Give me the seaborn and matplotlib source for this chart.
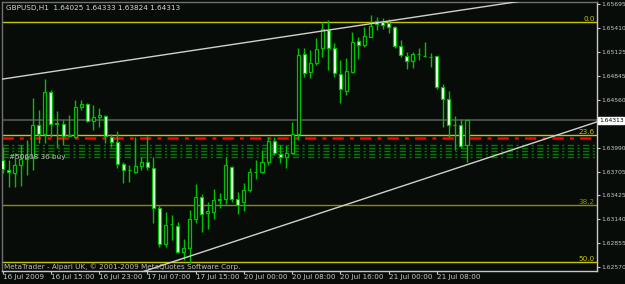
import numpy as np
import pandas as pd
import matplotlib
matplotlib.use("Agg")
import matplotlib.pyplot as plt
from matplotlib import font_manager
import seaborn as sns

# ---------------- data ----------------
opens = [1.63843, 1.63724, 1.63688, 1.63783, 1.63854, 1.63878, 1.64258, 1.64151, 1.64650, 1.64270,
         1.64270, 1.64128, 1.64116, 1.64472, 1.64508, 1.64306, 1.64353, 1.64365, 1.64116, 1.64056,
         1.63795, 1.63724, 1.63700, 1.63771, 1.63819, 1.63748, 1.63273, 1.62845, 1.63083, 1.63059,
         1.62750, 1.62797, 1.63142, 1.63403, 1.63213, 1.63225, 1.63368, 1.63379, 1.63759, 1.63379,
         1.63344, 1.63486, 1.63700, 1.63700, 1.63819, 1.64068, 1.63914, 1.63878, 1.63926, 1.64151,
         1.65101, 1.64888, 1.64994, 1.65173, 1.65386, 1.65173, 1.64864, 1.64662, 1.64888, 1.65256,
         1.65208, 1.65303, 1.65493, 1.65481, 1.65469, 1.65422, 1.65196, 1.65078, 1.65018, 1.65101,
         1.65078, 1.65066, 1.65078, 1.64709, 1.64567, 1.64258, 1.64258, 1.64025]
highs = [1.63997, 1.63843, 1.63926, 1.64021, 1.64080, 1.64579, 1.64436, 1.64804, 1.64674, 1.64424,
         1.64318, 1.64377, 1.64555, 1.64555, 1.64519, 1.64496, 1.64460, 1.64377, 1.64151, 1.64187,
         1.63819, 1.63783, 1.64116, 1.63878, 1.64128, 1.63878, 1.63308, 1.63225, 1.63189, 1.63106,
         1.62904, 1.63249, 1.63558, 1.63439, 1.63344, 1.63498, 1.63451, 1.63878, 1.63771, 1.63463,
         1.63569, 1.63748, 1.63843, 1.63961, 1.64116, 1.64116, 1.64021, 1.64021, 1.64294, 1.65173,
         1.65173, 1.65149, 1.65291, 1.65481, 1.65505, 1.65232, 1.65030, 1.65054, 1.65362, 1.65303,
         1.65422, 1.65564, 1.65541, 1.65529, 1.65517, 1.65434, 1.65268, 1.65125, 1.65125, 1.65173,
         1.65244, 1.65113, 1.65078, 1.64745, 1.64662, 1.64365, 1.64329, 1.64333]
lows = [1.63688, 1.63522, 1.63522, 1.63534, 1.63664, 1.63724, 1.64044, 1.64044, 1.64116, 1.63985,
        1.64021, 1.64116, 1.64104, 1.64436, 1.64294, 1.64199, 1.64234, 1.64044, 1.63997, 1.63748,
        1.63569, 1.63581, 1.63688, 1.63724, 1.63724, 1.63094, 1.62809, 1.62809, 1.62893, 1.62738,
        1.62655, 1.62619, 1.63094, 1.62988, 1.63023, 1.63142, 1.63273, 1.63320, 1.63344, 1.63201,
        1.63237, 1.63463, 1.63617, 1.63688, 1.63783, 1.63902, 1.63807, 1.63748, 1.63914, 1.64080,
        1.64828, 1.64816, 1.64971, 1.65066, 1.64911, 1.64828, 1.64519, 1.64614, 1.64876, 1.65042,
        1.65184, 1.65303, 1.65386, 1.65398, 1.65351, 1.65173, 1.65066, 1.64923, 1.64935, 1.65030,
        1.65066, 1.64947, 1.64686, 1.64234, 1.64116, 1.63961, 1.63985, 1.63824]
closes = [1.63736, 1.63700, 1.63783, 1.63854, 1.63878, 1.64258, 1.64151, 1.64650, 1.64270, 1.64282,
          1.64128, 1.64139, 1.64472, 1.64508, 1.64306, 1.64353, 1.64377, 1.64128, 1.64056, 1.63795,
          1.63724, 1.63720, 1.63771, 1.63819, 1.63759, 1.63273, 1.62845, 1.63071, 1.63080, 1.62750,
          1.62797, 1.63142, 1.63403, 1.63201, 1.63237, 1.63368, 1.63379, 1.63783, 1.63379, 1.63308,
          1.63486, 1.63700, 1.63704, 1.63819, 1.64068, 1.63926, 1.63878, 1.63926, 1.64151, 1.65089,
          1.64876, 1.64994, 1.65161, 1.65398, 1.65173, 1.64876, 1.64686, 1.64899, 1.65244, 1.65208,
          1.65315, 1.65434, 1.65458, 1.65446, 1.65422, 1.65196, 1.65089, 1.65018, 1.65101, 1.65097,
          1.65074, 1.65062, 1.64709, 1.64567, 1.64258, 1.64254, 1.64009, 1.64313]

time_labels = ["16 Jul 2009", "16 Jul 15:00", "16 Jul 23:00", "17 Jul 07:00", "17 Jul 15:00",
               "20 Jul 00:00", "20 Jul 08:00", "20 Jul 16:00", "21 Jul 00:00", "21 Jul 08:00"]
time_label_bars = [0, 8, 16, 24, 32, 40, 48, 56, 64, 72]

price_ticks = [1.65695, 1.65410, 1.65125, 1.64845, 1.64560, 1.64275, 1.63990, 1.63705,
               1.63425, 1.63140, 1.62855, 1.62570]

fib_levels = ["0.0", "23.6", "38.2", "50.0"]
fib_prices = [1.65481, 1.64139, 1.63308, 1.62631]
fib_colors = ["#c8c800", "#c8c800", "#8c8c00", "#c8c800"]

bid_price = 1.64313
red_line_price = 1.64104
green_line_prices = [1.64021, 1.63985, 1.63950, 1.63914, 1.63878]

trend1_bars = [0, 85]
trend1_prices = [1.64804, 1.65719]
trend2_bars = [24, 98]
trend2_prices = [1.62534, 1.64282]

title_text = "GBPUSD,H1  1.64025 1.64333 1.63824 1.64313"
footer_text = "MetaTrader - Alpari UK, \u00a9 2001-2009 MetaQuotes Software Corp."
order_text = "#50608 36 buy"

# ---------------- figure ----------------
sns.set_theme(style="dark")
plt.rcParams['font.family'] = ['DejaVu Sans']

avail = {f.name for f in font_manager.fontManager.ttflist}
if "Liberation Sans Narrow" in avail:
    AXFONT, AXFS = "Liberation Sans Narrow", 5.6
else:
    AXFONT, AXFS = "DejaVu Sans", 4.3

BG = "#080c08"
W, H = 625, 284
fig = plt.figure(figsize=(W / 100, H / 100), dpi=100)
fig.patch.set_facecolor(BG)
ax = fig.add_axes([2 / W, 1 - 271 / H, 595 / W, 269 / H])
ax.set_facecolor(BG)

df = pd.DataFrame({"open": opens, "high": highs, "low": lows, "close": closes})
df["bar"] = np.arange(len(df))

green = "#00c000"
ax.vlines(df["bar"], df["low"], df["high"], color=green, lw=1.0, zorder=3)
bull = df["close"] >= df["open"]
body_bottom = np.minimum(df["open"], df["close"])
body_h = np.maximum((df["close"] - df["open"]).abs(), 0.00003)
ax.bar(df["bar"][bull], body_h[bull], bottom=body_bottom[bull], width=0.5,
       color=BG, edgecolor=green, linewidth=0.9, zorder=4)
ax.bar(df["bar"][~bull], body_h[~bull], bottom=body_bottom[~bull], width=0.5,
       color="#ffffff", edgecolor=green, linewidth=0.9, zorder=4)

ax.axhline(bid_price, color="#505050", lw=1.3, zorder=1)
for p, c in zip(fib_prices, fib_colors):
    ax.axhline(p, color=c, lw=1.0, zorder=2)
ax.axhline(red_line_price, color="#ff0000", lw=1.8, ls=(0, (4.5, 2.5, 1.5, 2.5)), zorder=2)
for p in green_line_prices:
    ax.axhline(p, color="#007a00", lw=1.0, ls=(0, (4.5, 2.5, 1.5, 2.5)), zorder=2)

xl = (-0.12, 98.56)
for bars, prices in ((trend1_bars, trend1_prices), (trend2_bars, trend2_prices)):
    slope = (prices[1] - prices[0]) / (bars[1] - bars[0])
    xs = np.array(xl)
    ys = prices[0] + slope * (xs - bars[0])
    sns.lineplot(x=xs, y=ys, ax=ax, color="#d0d0d0", lw=1.0, zorder=5)

ax.set_xlim(*xl)
ax.set_ylim(1.62524, 1.65719)

FS = 5.2
trans = ax.get_yaxis_transform()
for lab, p, c in zip(fib_levels, fib_prices, fib_colors):
    ax.text(0.996, p, lab, transform=trans, ha="right", va="bottom", color=c,
            fontsize=FS, zorder=6)

ax.yaxis.tick_right()
ax.set_yticks(price_ticks)
ax.set_yticklabels(["" if abs(v - 1.64275) < 1e-9 else f"{v:.5f}" for v in price_ticks],
                   fontfamily=AXFONT)
ax.tick_params(axis="y", colors="#c8c8c8", labelsize=AXFS, length=2, width=0.8, pad=0.8,
               direction="out", right=True, left=False)
ax.set_xticks(time_label_bars)
ax.set_xticklabels(time_labels)
ax.tick_params(axis="x", colors="#c8c8c8", labelsize=FS, length=2, width=0.8, pad=0.5,
               direction="out", bottom=True)
for lab in ax.get_xticklabels():
    lab.set_horizontalalignment("left")
ax.set_xlabel("")
ax.set_ylabel("")
ax.grid(False)

for s in ("left", "top"):
    ax.spines[s].set_color("#707070")
    ax.spines[s].set_linewidth(1.0)
    ax.spines[s].set_visible(True)
for s in ("right", "bottom"):
    ax.spines[s].set_color("#c8c8c8")
    ax.spines[s].set_linewidth(1.0)
    ax.spines[s].set_visible(True)

ax.text(1.0035, bid_price, f"{bid_price:.5f}", transform=trans, ha="left", va="center",
        color="#000000", fontsize=AXFS, fontfamily=AXFONT, zorder=10, clip_on=False,
        bbox=dict(boxstyle="square,pad=0.12", fc="#ffffff", ec="#ffffff"))

ax.text(0.006, 0.99, title_text, transform=ax.transAxes, ha="left", va="top",
        color="#d8d8d8", fontsize=FS, zorder=10)
ax.text(0.003, 0.004, footer_text, transform=ax.transAxes, ha="left", va="bottom",
        color="#c0c0c0", fontsize=FS, zorder=10)

ax.text(0.012, green_line_prices[-1], order_text, transform=trans, ha="left",
        va="center", color="#c0c0c0", fontsize=FS, zorder=10)

fig.savefig("out.png", dpi=100, facecolor=fig.get_facecolor())
